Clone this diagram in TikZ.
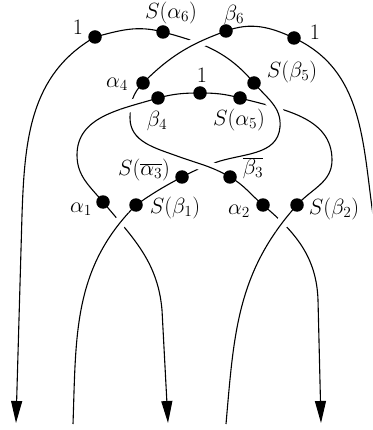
\RequirePackage{fix-cm}
\documentclass[tikz,border=0pt]{standalone}
\usetikzlibrary{arrows.meta}
\begin{document}
\begin{tikzpicture}[x=1pt,y=1pt,line width=1.1pt,
  halo/.style={preaction={draw=white,line width=12pt}},
  dot/.style={circle,fill=black,inner sep=0pt,minimum size=13.5pt},
  lab/.style={inner sep=0pt,font=\fontsize{22}{26}\selectfont},
  tip/.style={-{Triangle[length=22pt,width=11pt]}}]
\useasboundingbox (0,0) rectangle (372,-430);
\clip (0,0) rectangle (372,-430);
% dots
\coordinate (D1) at (95,-37);
\coordinate (Sa6) at (163,-32);
\coordinate (b6) at (226,-31);
\coordinate (D2) at (294,-38);
\coordinate (a4) at (143,-83);
\coordinate (Sb5) at (254,-83);
\coordinate (b4) at (158,-98);
\coordinate (D3) at (200,-93);
\coordinate (Sa5) at (240,-98);
\coordinate (Sa3) at (182,-177);
\coordinate (b3) at (230,-177);
\coordinate (a1) at (103,-202);
\coordinate (Sb1) at (136,-205);
\coordinate (a2) at (263,-205);
\coordinate (Sb2) at (297,-205);
% auxiliary points
\coordinate (Abot) at (73,-424);
\coordinate (Ar) at (214,-163);
\coordinate (Aloop) at (280,-127);
\coordinate (Al) at (22,-215);
\coordinate (Aend) at (16,-423);
\coordinate (Bbot) at (226,-424);
\coordinate (Br) at (332,-160);
\coordinate (Bl) at (77,-155);
\coordinate (Bdn) at (162,-310);
\coordinate (Bend) at (168,-423);
\coordinate (Cs) at (377,-280);
\coordinate (Ce) at (373,-215);
\coordinate (Cl) at (130,-118);
\coordinate (Cm) at (177,-156);
\coordinate (Cdn) at (318,-300);
\coordinate (Cend) at (321,-423);
% strand A
\draw[tip] (Abot) to[out=88,in=225] (Sb1) to[out=35,in=208] (Sa3)
  to[out=28,in=200] (Ar) to[out=20,in=-95] (Aloop) to[out=85,in=-50] (Sb5)
  to[out=130,in=-15] (Sa6) to[out=165,in=15] (D1)
  to[out=210,in=88] (Al) -- (Aend);
% strand B
\draw[tip] (Bbot) to[out=85,in=228] (Sb2) to[out=48,in=-90] (Br)
  to[out=90,in=-15] (Sa5) to[out=165,in=0] (D3) to[out=180,in=15] (b4)
  to[out=197,in=90] (Bl) to[out=-90,in=130] (a1)
  to[out=-50,in=95] (Bdn) -- (Bend);
% strand C
\draw[tip] (Cs) -- (Ce) to[out=98,in=-25] (D2) to[out=155,in=20] (b6)
  to[out=200,in=45] (a4) to[out=225,in=90] (Cl) to[out=-90,in=160] (Cm)
  to[out=-20,in=150] (b3) to[out=-30,in=140] (a2)
  to[out=-40,in=92] (Cdn) -- (Cend);
% over-crossings
\begin{scope}\clip (199,-41) circle (12);
  \draw[halo] (b6) to[out=200,in=45] (a4);\end{scope}
\begin{scope}\clip (131,-104) circle (12);
  \draw[halo] (b4) to[out=197,in=90] (Bl);\end{scope}
\begin{scope}\clip (275,-111) circle (12);
  \draw[halo] (Aloop) to[out=85,in=-50] (Sb5);\end{scope}
\begin{scope}\clip (205,-166) circle (12);
  \draw[halo] (Cm) to[out=-20,in=150] (b3);\end{scope}
\begin{scope}\clip (120,-221) circle (12);
  \draw[halo] (Abot) to[out=88,in=225] (Sb1);\end{scope}
\begin{scope}\clip (281,-221) circle (12);
  \draw[halo] (Bbot) to[out=85,in=228] (Sb2);\end{scope}
% dots
\foreach \p in {D1,Sa6,b6,D2,a4,Sb5,b4,D3,Sa5,Sa3,b3,a1,Sb1,a2,Sb2}
  \node[dot] at (\p) {};
% labels
\node[lab] (lD1) at (78,-27) {$1$};
\node[lab] (lSa6) at (171,-13) {$S(\alpha_6)$};
\node[lab] (lb6) at (234,-15) {$\beta_6$};
\node[lab] (lD2) at (315,-32) {$1$};
\node[lab] (la4) at (117,-84) {$\alpha_4$};
\node[lab] (lSb5) at (292,-72) {$S(\beta_5)$};
\node[lab] (lb4) at (157,-121) {$\beta_4$};
\node[lab] (lD3) at (202,-75) {$1$};
\node[lab] (lSa5) at (239,-120) {$S(\alpha_5)$};
\node[lab] (lSa3) at (144,-170) {$S(\overline{\alpha_3})$};
\node[lab] (lb3) at (253,-168) {$\overline{\beta_3}$};
\node[lab] (la1) at (81,-209) {$\alpha_1$};
\node[lab] (lSb1) at (175,-208) {$S(\beta_1)$};
\node[lab] (la2) at (239,-211) {$\alpha_2$};
\node[lab] (lSb2) at (334,-209) {$S(\beta_2)$};
\end{tikzpicture}
\end{document}
